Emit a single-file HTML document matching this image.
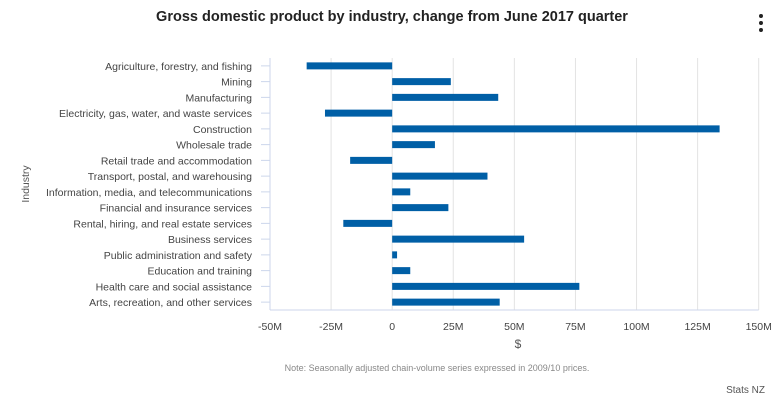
<!DOCTYPE html>
<html><head><meta charset="utf-8"><style>
body{margin:0;background:#fff;font-family:"Liberation Sans",sans-serif;}
svg text{font-family:"Liberation Sans",sans-serif;}
</style></head><body>
<svg id="c" width="784" height="407" xmlns="http://www.w3.org/2000/svg">
<text x="392" y="21" text-anchor="middle" font-size="14.5" font-weight="bold" fill="#222">Gross domestic product by industry, change from June 2017 quarter</text>
<g fill="#222"><circle cx="761" cy="16" r="2"/><circle cx="761" cy="23" r="2"/><circle cx="761" cy="30" r="2"/></g>
<g id="grid"></g><g id="bars"></g><g id="labels"></g>
<text transform="translate(29,184) rotate(-90)" text-anchor="middle" font-size="10.5" fill="#555">Industry</text>
<text x="518" y="348" text-anchor="middle" font-size="12" fill="#555">$</text>
<text x="437" y="371" text-anchor="middle" font-size="9" fill="#888">Note: Seasonally adjusted chain-volume series expressed in 2009/10 prices.</text>
<text x="765" y="393" text-anchor="end" font-size="10" fill="#555">Stats NZ</text>
</svg>
<script>
const categories=["Agriculture, forestry, and fishing","Mining","Manufacturing","Electricity, gas, water, and waste services","Construction","Wholesale trade","Retail trade and accommodation","Transport, postal, and warehousing","Information, media, and telecommunications","Financial and insurance services","Rental, hiring, and real estate services","Business services","Public administration and safety","Education and training","Health care and social assistance","Arts, recreation, and other services"];
const values=[-35,24,43.4,-27.5,134,17.5,-17.2,39,7.4,23,-20,54,2,7.4,76.6,44];
const ticks=[-50,-25,0,25,50,75,100,125,150];
const tickLabels=["-50M","-25M","0","25M","50M","75M","100M","125M","150M"];
const NS="http://www.w3.org/2000/svg";
const x0=270,x1=758.7,yTop=58,yBottom=310,vmin=-50,vmax=150;
const xs=v=>x0+(v-vmin)/(vmax-vmin)*(x1-x0);
const band=(yBottom-yTop)/categories.length;
const yc=i=>yTop+band*(i+0.5);
function mk(t,a,p){const e=document.createElementNS(NS,t);for(const k in a)e.setAttribute(k,a[k]);p.appendChild(e);return e;}
const g=document.getElementById('grid'),b=document.getElementById('bars'),l=document.getElementById('labels');
ticks.forEach((t,i)=>{
 const ln=mk('line',{x1:xs(t),x2:xs(t),y1:yTop,y2:yBottom,stroke:'#e3e3e3','stroke-width':1},g);
 
 
 const tx=mk('text',{x:xs(t),y:yBottom+20,'text-anchor':'middle','font-size':10.5,fill:'#444'},g);
 tx.textContent=tickLabels[i];
 
 
});
const ax=mk('line',{x1:x0,x2:x1,y1:yBottom,y2:yBottom,stroke:'#ccd6eb'},g);


const ay=mk('line',{x1:x0,x2:x0,y1:yTop,y2:yBottom,stroke:'#ccd6eb'},g);


categories.forEach((c,i)=>{
 const y=yc(i),v=values[i];
 const tk=mk('line',{x1:x0-9,x2:x0,y1:y,y2:y,stroke:'#ccd6eb'},g);
 
 
 const r=mk('rect',{x:Math.min(xs(0),xs(v)),y:y-3.5,width:Math.abs(xs(v)-xs(0)),height:7,fill:'#005fa6'},b);
 
 
 const t=mk('text',{x:x0-18,y:y+4,'text-anchor':'end','font-size':10.5,fill:'#444'},l);
 t.textContent=c;
 
 
});
</script>
</body></html>
